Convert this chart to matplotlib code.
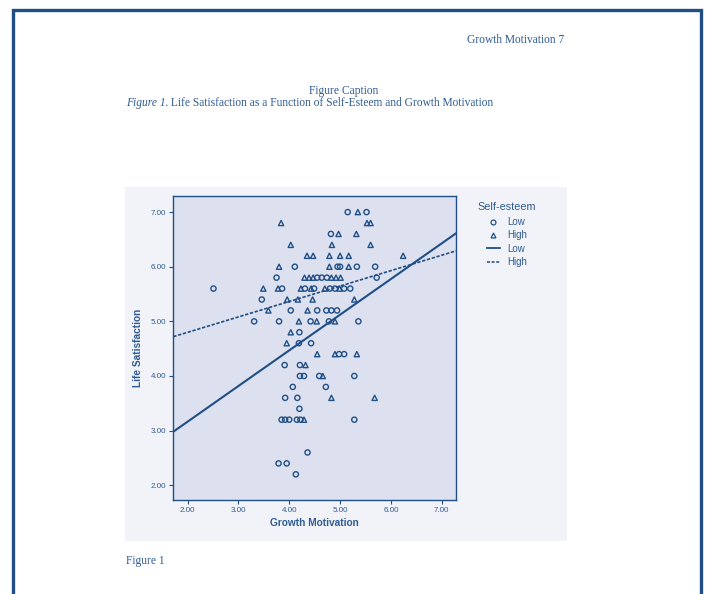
import matplotlib
matplotlib.use("Agg")
import matplotlib.pyplot as plt
from matplotlib.lines import Line2D
from matplotlib.patches import Rectangle
import numpy as np

# Low self-esteem (circles)
low_x = [5.15, 5.52, 4.82,
         4.11, 4.95, 5.00, 5.33, 5.69,
         3.75, 4.55, 4.64, 4.74, 5.72,
         2.51, 3.86, 4.31, 4.49, 4.80, 4.90, 5.08, 5.20,
         3.46,
         4.03, 4.55, 4.73, 4.83, 4.94,
         3.31, 3.80, 4.42, 4.78, 5.36,
         4.20, 4.19, 4.43, 4.98, 5.08,
         3.91, 4.21, 4.21, 4.29, 4.59, 5.28,
         4.07, 4.72, 3.92, 4.16, 4.20,
         3.85, 3.92, 4.00, 4.15, 4.22, 5.28,
         4.36, 3.79, 3.95, 4.13]
low_y = [7.0, 7.0, 6.6,
         6.0, 6.0, 6.0, 6.0, 6.0,
         5.8, 5.8, 5.8, 5.8, 5.8,
         5.6, 5.6, 5.6, 5.6, 5.6, 5.6, 5.6, 5.6,
         5.4,
         5.2, 5.2, 5.2, 5.2, 5.2,
         5.0, 5.0, 5.0, 5.0, 5.0,
         4.8, 4.6, 4.6, 4.4, 4.4,
         4.2, 4.2, 4.0, 4.0, 4.0, 4.0,
         3.8, 3.8, 3.6, 3.6, 3.4,
         3.2, 3.2, 3.2, 3.2, 3.2, 3.2,
         2.6, 2.4, 2.4, 2.2]

# High self-esteem (triangles)
high_x = [5.35,
          3.84, 5.53, 5.60,
          4.97, 5.32,
          4.03, 4.84, 5.60,
          4.35, 4.47, 4.79, 5.00, 5.17, 6.24,
          3.80, 4.79, 5.17,
          4.30, 4.39, 4.47, 4.83, 4.92, 5.01,
          3.49, 3.78, 4.23, 4.43, 4.70, 4.99,
          3.96, 4.17, 4.46, 5.28,
          3.59, 4.36,
          4.19, 4.54, 4.90,
          4.03, 3.95,
          4.55, 4.90, 5.33,
          4.32, 4.66,
          4.83, 5.68, 4.29]
high_y = [7.0,
          6.8, 6.8, 6.8,
          6.6, 6.6,
          6.4, 6.4, 6.4,
          6.2, 6.2, 6.2, 6.2, 6.2, 6.2,
          6.0, 6.0, 6.0,
          5.8, 5.8, 5.8, 5.8, 5.8, 5.8,
          5.6, 5.6, 5.6, 5.6, 5.6, 5.6,
          5.4, 5.4, 5.4, 5.4,
          5.2, 5.2,
          5.0, 5.0, 5.0,
          4.8, 4.6,
          4.4, 4.4, 4.4,
          4.2, 4.0,
          3.6, 3.6, 3.2]

# fit lines (intercept, slope)
low_fit = (1.857, 0.653)
high_fit = (4.234, 0.2824)

ticks = [2, 3, 4, 5, 6, 7]
xlim = (1.72, 7.28)
ylim = (1.73, 7.30)

blue = '#1f4f86'
txt = '#2f5b93'
W, H = 706, 594

fig = plt.figure(figsize=(7.06, 5.94), dpi=100)
fig.patch.set_facecolor('white')

# page border
fig.add_artist(Rectangle((13 / W, -0.05), 688 / W, 1.05 - 10 / H,
                         transform=fig.transFigure, fill=False,
                         edgecolor=blue, linewidth=2.4))

# chart canvas
fig.add_artist(Rectangle((125 / W, 1 - 541 / H), 442 / W, 354 / H,
                         transform=fig.transFigure, facecolor='#f2f3f8',
                         edgecolor='none', zorder=0))

ax = fig.add_axes([173.3 / W, 1 - 500 / H, 282.7 / W, 304.3 / H])
ax.set_facecolor('#dde0ee')
for s in ax.spines.values():
    s.set_color(blue)
    s.set_linewidth(1.0)

# page texts
serif = 'Liberation Serif'
fig.text(467 / W, 1 - 40 / H, 'Growth Motivation 7', fontsize=8.3,
         family=serif, color=txt, va='center')
fig.text(344 / W, 1 - 91 / H, 'Figure Caption', fontsize=8.3,
         family=serif, color=txt, va='center', ha='center')
t1 = fig.text(126 / W, 1 - 103 / H, 'Figure 1.', fontsize=8.3, family=serif,
              style='italic', color=txt, va='center')
ax.annotate(' Life Satisfaction as a Function of Self-Esteem and Growth Motivation',
            xy=(1, 0.5), xycoords=t1, va='center', fontsize=8.3,
            family=serif, color=txt, annotation_clip=False)
fig.text(126 / W, 1 - 561 / H, 'Figure 1', fontsize=8.3, family=serif,
         color=txt, va='center')

ax.scatter(low_x, low_y, s=14, marker='o', facecolors='none',
           edgecolors=blue, linewidths=1.0, zorder=3)
ax.scatter(high_x, high_y, s=14, marker='^', facecolors='none',
           edgecolors=blue, linewidths=1.0, zorder=3)

xx = np.array(xlim)
ax.plot(xx, low_fit[0] + low_fit[1] * xx, color=blue, linewidth=1.5, zorder=2)
ax.plot(xx, high_fit[0] + high_fit[1] * xx, color=blue, linewidth=1.2,
        linestyle=(0, (2, 1)), zorder=2)

ax.set_xlim(xlim)
ax.set_ylim(ylim)
ax.set_xticks(ticks)
ax.set_yticks(ticks)
ax.set_xticklabels(['%.2f' % t for t in ticks])
ax.set_yticklabels(['%.2f' % t for t in ticks])
ax.tick_params(colors=blue, labelcolor=txt, labelsize=5.8, length=3,
               width=0.8, pad=2)
for lab in ax.get_xticklabels() + ax.get_yticklabels():
    lab.set_family('Liberation Sans')

ax.set_xlabel('Growth Motivation', fontsize=7.3, fontweight='bold',
              family='Liberation Sans', color=txt, labelpad=3)
ax.set_ylabel('Life Satisfaction', fontsize=7.3, fontweight='bold',
              family='Liberation Sans', color=txt, labelpad=6)

# legend
fig.text(477 / W, 1 - 207 / H, 'Self-esteem', fontsize=7.8,
         family='Liberation Sans', color=txt, va='center')
handles = [
    Line2D([], [], marker='o', linestyle='none', markerfacecolor='none',
           markeredgecolor=blue, markersize=3.5, markeredgewidth=0.9),
    Line2D([], [], marker='^', linestyle='none', markerfacecolor='none',
           markeredgecolor=blue, markersize=3.5, markeredgewidth=0.9),
    Line2D([], [], color=blue, linewidth=1.3),
    Line2D([], [], color=blue, linewidth=1.1, linestyle=(0, (2, 1))),
]
leg = ax.legend(handles, ['Low', 'High', 'Low', 'High'],
                loc='upper left', bbox_to_anchor=(487 / W, 1 - 217 / H),
                bbox_transform=fig.transFigure, frameon=False,
                labelcolor=txt, prop={'family': 'Liberation Sans', 'size': 7},
                handlelength=1.3, handletextpad=0.8, labelspacing=0.35,
                borderpad=0, borderaxespad=0)

fig.savefig('out.png', dpi=100)
